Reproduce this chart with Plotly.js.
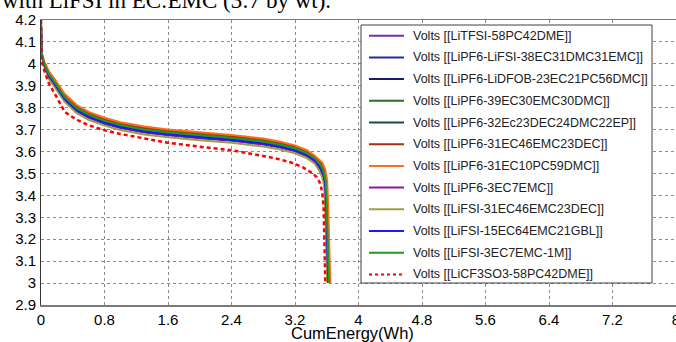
<!DOCTYPE html>
<html>
<head>
<meta charset="utf-8">
<script src="https://cdn.plot.ly/plotly-3.0.1.min.js"></script>
<style>html,body{margin:0;padding:0;background:#fff;overflow:hidden}#chart{width:676px;height:342px}</style>
</head>
<body>
<div id="chart"></div>
<script>
// ---- data ----
const seriesNames = [
  "Volts [[LiTFSI-58PC42DME]]",
  "Volts [[LiPF6-LiFSI-38EC31DMC31EMC]]",
  "Volts [[LiPF6-LiDFOB-23EC21PC56DMC]]",
  "Volts [[LiPF6-39EC30EMC30DMC]]",
  "Volts [[LiPF6-32Ec23DEC24DMC22EP]]",
  "Volts [[LiPF6-31EC46EMC23DEC]]",
  "Volts [[LiPF6-31EC10PC59DMC]]",
  "Volts [[LiPF6-3EC7EMC]]",
  "Volts [[LiFSI-31EC46EMC23DEC]]",
  "Volts [[LiFSI-15EC64EMC21GBL]]",
  "Volts [[LiFSI-3EC7EMC-1M]]",
  "Volts [[LiCF3SO3-58PC42DME]]"
];
const seriesColors = ["#7030a8", "#24309a", "#1a1a6a", "#2b6e2b", "#1c4a46", "#a3330e",
                      "#ff6c1c", "#8a1a9a", "#a0a040", "#1a1aff", "#229922", "#ff0000"];

const energyHead = [0, 0.004, 0.04, 0.1, 0.17, 0.3, 0.45, 0.6, 0.8, 1.0, 1.3, 1.6, 2.0, 2.4, 2.8, 3.0, 3.2, 3.35, 3.45];

const tail_LiTFSI      = [3.512, 3.552, 3.577, 3.587, 3.597, 3.607, 3.617];
const tail_LiPF6LiFSI  = [3.515, 3.555, 3.580, 3.590, 3.600, 3.610, 3.620];
const tail_LiDFOB      = [3.517, 3.557, 3.582, 3.592, 3.602, 3.612, 3.622];
const tail_39EC        = [3.520, 3.560, 3.585, 3.595, 3.605, 3.615, 3.625];
const tail_32Ec        = [3.526, 3.566, 3.591, 3.601, 3.611, 3.621, 3.631];
const tail_31EC46      = [3.532, 3.572, 3.597, 3.607, 3.617, 3.627, 3.637];
const tail_31EC10      = [3.540, 3.580, 3.605, 3.615, 3.625, 3.635, 3.645];
const tail_3EC7EMC     = [3.510, 3.550, 3.575, 3.585, 3.595, 3.605, 3.615];
const tail_FSI31EC     = [3.502, 3.542, 3.567, 3.577, 3.587, 3.597, 3.607];
const tail_FSI15EC     = [3.514, 3.554, 3.579, 3.589, 3.599, 3.609, 3.619];
const tail_FSI3EC      = [3.522, 3.562, 3.587, 3.597, 3.607, 3.617, 3.627];

const v_LiTFSI     = [4.19, 4.046, 3.995, 3.941, 3.906, 3.836, 3.786, 3.756, 3.729, 3.709, 3.689, 3.676, 3.663, 3.651, 3.634, 3.621, 3.603, 3.581, 3.556, 3.526, 3.496, 3.453, 3.38, 3.25, 3.12, 3.0];
const v_LiPF6LiFSI = [4.19, 4.048, 3.997, 3.945, 3.910, 3.840, 3.790, 3.760, 3.733, 3.713, 3.693, 3.680, 3.667, 3.655, 3.638, 3.625, 3.607, 3.585, 3.560, 3.530, 3.500, 3.456, 3.38, 3.25, 3.12, 3.0];
const v_LiDFOB     = [4.19, 4.049, 3.998, 3.947, 3.912, 3.842, 3.792, 3.762, 3.735, 3.715, 3.695, 3.682, 3.669, 3.657, 3.640, 3.627, 3.609, 3.587, 3.562, 3.532, 3.502, 3.458, 3.38, 3.25, 3.12, 3.0];
const v_39EC       = [4.19, 4.050, 4.000, 3.950, 3.915, 3.845, 3.795, 3.765, 3.738, 3.718, 3.698, 3.685, 3.672, 3.660, 3.643, 3.630, 3.612, 3.590, 3.565, 3.535, 3.505, 3.460, 3.38, 3.25, 3.12, 3.0];
const v_32Ec       = [4.19, 4.052, 4.004, 3.957, 3.922, 3.852, 3.802, 3.772, 3.745, 3.725, 3.705, 3.692, 3.679, 3.667, 3.650, 3.637, 3.619, 3.597, 3.572, 3.542, 3.511, 3.465, 3.38, 3.25, 3.12, 3.0];
const v_31EC46     = [4.19, 4.053, 4.007, 3.960, 3.926, 3.856, 3.806, 3.776, 3.749, 3.729, 3.709, 3.696, 3.683, 3.671, 3.654, 3.641, 3.623, 3.601, 3.576, 3.546, 3.515, 3.467, 3.38, 3.25, 3.12, 3.0];
const v_31EC10     = [4.19, 4.055, 4.010, 3.965, 3.932, 3.862, 3.812, 3.781, 3.754, 3.734, 3.714, 3.701, 3.688, 3.676, 3.659, 3.646, 3.628, 3.606, 3.581, 3.551, 3.520, 3.470, 3.38, 3.25, 3.12, 3.0];
const v_3EC7EMC    = [4.19, 4.045, 3.994, 3.939, 3.904, 3.834, 3.784, 3.754, 3.727, 3.707, 3.687, 3.674, 3.661, 3.649, 3.632, 3.619, 3.601, 3.579, 3.554, 3.524, 3.494, 3.452, 3.38, 3.25, 3.12, 3.0];
const v_FSI31EC    = [4.19, 4.042, 3.990, 3.930, 3.895, 3.825, 3.775, 3.745, 3.718, 3.698, 3.678, 3.665, 3.652, 3.640, 3.623, 3.610, 3.592, 3.570, 3.545, 3.515, 3.485, 3.445, 3.38, 3.25, 3.12, 3.0];
const v_FSI15EC    = [4.19, 4.047, 3.996, 3.943, 3.908, 3.838, 3.788, 3.758, 3.731, 3.711, 3.691, 3.678, 3.665, 3.653, 3.636, 3.623, 3.605, 3.583, 3.558, 3.528, 3.498, 3.455, 3.38, 3.25, 3.12, 3.0];
const v_FSI3EC     = [4.19, 4.050, 4.002, 3.953, 3.918, 3.848, 3.798, 3.768, 3.741, 3.721, 3.701, 3.688, 3.675, 3.663, 3.646, 3.633, 3.615, 3.593, 3.568, 3.538, 3.508, 3.462, 3.38, 3.25, 3.12, 3.0];

const e_CF3SO3 = [0, 0.004, 0.04, 0.1, 0.17, 0.3, 0.45, 0.6, 0.8, 1.0, 1.3, 1.6, 2.0, 2.4, 2.8, 3.0, 3.15, 3.3, 3.4, 3.47, 3.51, 3.54, 3.56, 3.57, 3.575, 3.582];
const v_CF3SO3 = [4.2, 4.02, 3.97, 3.91, 3.866, 3.78, 3.745, 3.72, 3.697, 3.68, 3.66, 3.64, 3.622, 3.606, 3.58, 3.565, 3.55, 3.528, 3.505, 3.485, 3.46, 3.42, 3.35, 3.22, 3.12, 3.0];

const xTickVals = [0, 0.8, 1.6, 2.4, 3.2, 4, 4.8, 5.6, 6.4, 7.2, 8];
const xTickText = ["0", "0.8", "1.6", "2.4", "3.2", "4", "4.8", "5.6", "6.4", "7.2", "8"];
const yTickVals = [2.9, 3.0, 3.1, 3.2, 3.3, 3.4, 3.5, 3.6, 3.7, 3.8, 3.9, 4.0, 4.1, 4.2];
const yTickText = ["2.9", "3", "3.1", "3.2", "3.3", "3.4", "3.5", "3.6", "3.7", "3.8", "3.9", "4", "4.1", "4.2"];

// ---- build traces ----
const solid = [
  [tail_LiTFSI, v_LiTFSI], [tail_LiPF6LiFSI, v_LiPF6LiFSI], [tail_LiDFOB, v_LiDFOB],
  [tail_39EC, v_39EC], [tail_32Ec, v_32Ec], [tail_31EC46, v_31EC46], [tail_31EC10, v_31EC10],
  [tail_3EC7EMC, v_3EC7EMC], [tail_FSI31EC, v_FSI31EC], [tail_FSI15EC, v_FSI15EC], [tail_FSI3EC, v_FSI3EC]
];
const traces = solid.map((s, i) => ({
  type: "scatter", mode: "lines",
  x: energyHead.concat(s[0]), y: s[1],
  name: seriesNames[i], showlegend: false,
  line: {color: seriesColors[i], width: 2}
}));
traces.push({
  type: "scatter", mode: "lines",
  x: e_CF3SO3, y: v_CF3SO3,
  name: seriesNames[11], showlegend: false,
  line: {color: seriesColors[11], width: 2.5, dash: "4px,3px"}
});

// ---- pixel helpers for the legend box ----
const M = {l: 41, r: 0, t: 20, b: 37};
const W = 676, H = 342;
const PW = W - M.l - M.r, PH = H - M.t - M.b;
const px = v => (v - M.l) / PW;
const py = v => (H - M.b - v) / PH;

const shapes = [{
  type: "rect", xref: "paper", yref: "paper",
  x0: px(361), x1: px(652), y0: py(25), y1: py(283),
  fillcolor: "#ffffff", line: {color: "#404040", width: 1}, layer: "above"
}];
const annotations = [
  {text: "CumEnergy(Wh)", xref: "paper", yref: "paper",
   x: px(352), y: py(333), xanchor: "center", yanchor: "middle",
   showarrow: false, font: {size: 16.5}},
  {text: "with LiFSI in EC:EMC (3:7 by wt).", xref: "paper", yref: "paper",
   x: px(0), y: py(15), xanchor: "left", yanchor: "bottom",
   showarrow: false, font: {size: 23, family: "Liberation Serif, Times New Roman, serif", color: "#000"}}
];
seriesNames.forEach((nm, i) => {
  const yc = 35.7 + i * 21.7;
  shapes.push({
    type: "line", xref: "paper", yref: "paper",
    x0: px(369), x1: px(404), y0: py(yc), y1: py(yc), layer: "above",
    line: i === 11 ? {color: seriesColors[i], width: 2, dash: "3px,3px"} : {color: seriesColors[i], width: 2}
  });
  annotations.push({
    text: nm, xref: "paper", yref: "paper", x: px(411), y: py(yc),
    xanchor: "left", yanchor: "middle", showarrow: false,
    font: {size: 12.5, color: "#222", family: "Liberation Sans, Arial, sans-serif"}
  });
});

const gridCol = "#8c8c8c";
const layout = {
  width: W, height: H,
  margin: {l: M.l, r: M.r, t: M.t, b: M.b, pad: 0},
  paper_bgcolor: "#ffffff", plot_bgcolor: "#ffffff",
  font: {family: "Liberation Sans, Arial, sans-serif", color: "#000", size: 15},
  showlegend: false,
  xaxis: {
    range: [0, 8], tickvals: xTickVals, ticktext: xTickText,
    showgrid: true, gridcolor: gridCol, griddash: "3px,3px", gridwidth: 1,
    zeroline: false, showline: true, linecolor: "#7a7a7a", linewidth: 1.5, mirror: true,
    ticks: "", tickfont: {size: 15}, ticklabeloverflow: "allow"
  },
  yaxis: {
    range: [2.9, 4.2], tickvals: yTickVals, ticktext: yTickText,
    showgrid: true, gridcolor: gridCol, griddash: "3px,3px", gridwidth: 1,
    zeroline: false, showline: true, linecolor: "#333", linewidth: 1,
    ticks: "", tickfont: {size: 15}, ticklabelstandoff: 1, ticklabeloverflow: "allow"
  },
  shapes: shapes,
  annotations: annotations
};

Plotly.newPlot("chart", traces, layout, {staticPlot: true, displayModeBar: false});
</script>
</body>
</html>
